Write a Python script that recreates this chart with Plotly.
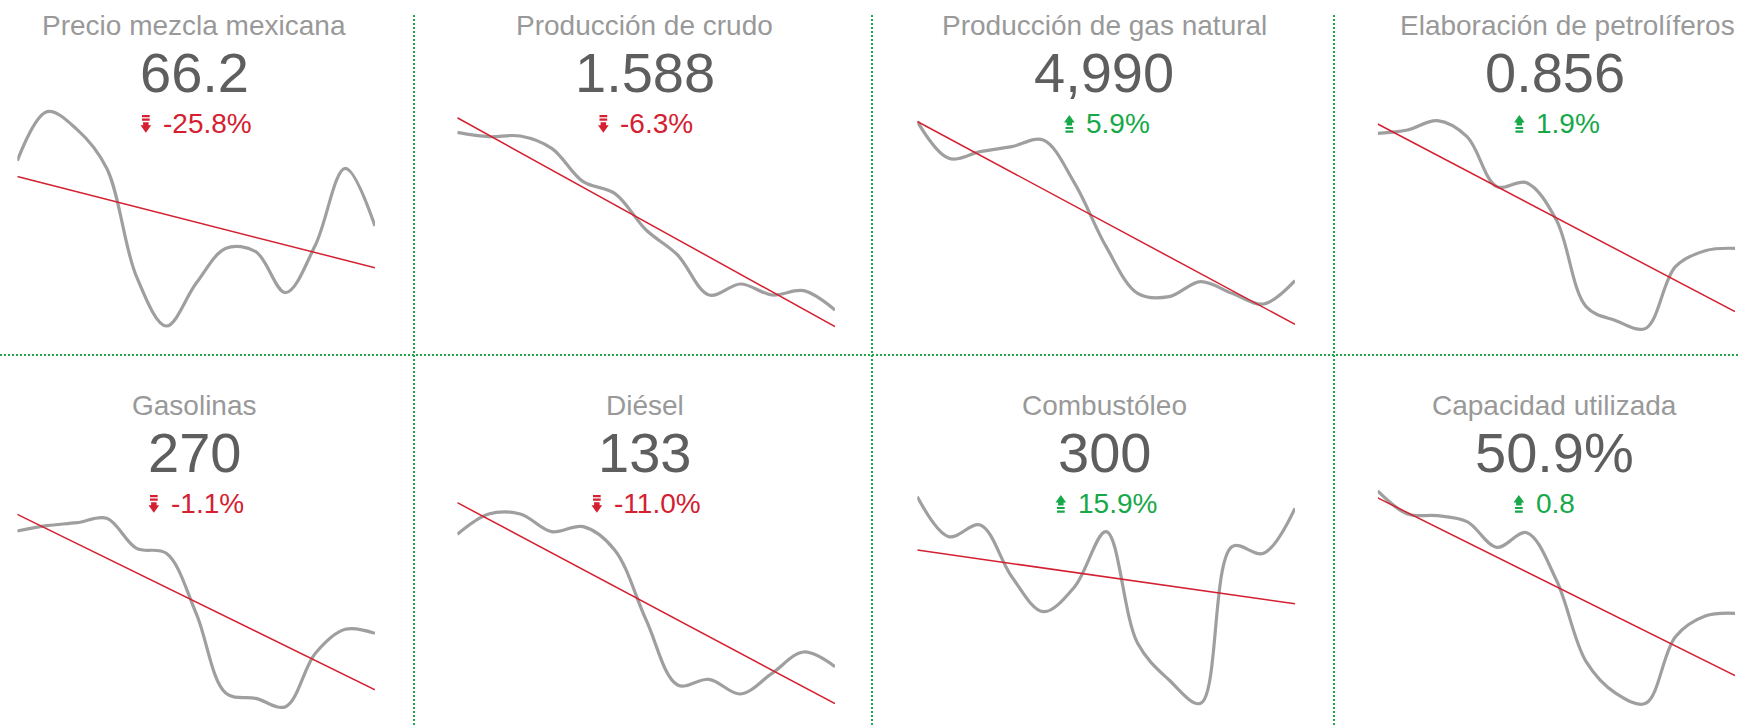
import numpy as np
import plotly.graph_objects as go

W, H = 1739, 725
FONT = 'Arial, Liberation Sans, sans-serif'
GRAY_LINE = '#9f9f9f'
TREND_RED = '#d42031'
DOWN_RED = '#d42031'
UP_GREEN = '#17a84a'
GRID_GREEN = '#22a84a'
TITLE_GRAY = '#999999'
NUMBER_GRAY = '#5e5e5e'

titles = ['Precio mezcla mexicana', 'Producción de crudo', 'Producción de gas natural',
          'Elaboración de petrolíferos', 'Gasolinas', 'Diésel', 'Combustóleo',
          'Capacidad utilizada']
values = [66.2, 1.588, 4990, 0.856, 270, 133, 300, 50.9]
references = [89.2, 1.695, 4712, 0.840, 273, 149.4, 258.8, 50.1]
value_formats = ['.1f', '.3f', ',.0f', '.3f', '.0f', '.0f', '.0f', '.1f']
value_suffixes = ['', '', '', '', '', '', '', '%']
delta_relative = [True, True, True, True, True, True, True, False]

# 13 monthly points per sparkline (index units, the original shows no axis)
meses = list(range(1, 14))
precio_mezcla = [61.8, 76.5, 71.2, 59.5, 27.0, 12.2, 25.0, 35.5, 34.5, 22.2, 36.5, 59.5, 42.2]
prod_crudo = [70.3, 69.0, 69.2, 65.5, 55.5, 52.0, 41.0, 33.5, 21.5, 24.8, 21.5, 22.8, 17.0]
prod_gas = [73.5, 62.5, 64.5, 66.0, 68.0, 55.0, 36.0, 22.0, 21.0, 25.5, 22.0, 18.8, 25.8]
petroliferos = [70.0, 71.0, 73.8, 69.0, 54.0, 55.2, 44.0, 18.0, 13.8, 11.5, 30.0, 34.8, 35.5]
gasolinas = [58.7, 60.3, 61.2, 62.5, 53.5, 52.0, 34.0, 10.0, 8.5, 6.0, 22.0, 29.2, 28.0]
diesel = [57.7, 63.8, 63.8, 58.5, 60.0, 53.0, 32.0, 12.5, 14.2, 9.8, 16.0, 22.4, 18.0]
combustoleo = [69.0, 57.0, 60.5, 45.0, 34.5, 42.0, 58.5, 25.0, 14.0, 7.0, 54.0, 52.0, 65.5]
capacidad = [70.7, 63.8, 63.3, 61.5, 53.8, 58.2, 44.0, 19.5, 10.0, 7.0, 27.0, 33.2, 34.0]

series = [precio_mezcla, prod_crudo, prod_gas, petroliferos,
          gasolinas, diesel, combustoleo, capacidad]

# layout, in pixels of the page
COL_X = [(17.3, 375), (457.3, 835), (917.3, 1295), (1377.7, 1735)]
TEXT_X = [194, 644.5, 1104, 1554.5]
ROW_SPARK_Y = [(95, 345), (475, 722)]  # top, bottom
ROW_RANGE = [(6.5, 81.5), (1.4, 75.5)]
ROW_OFFSET = [0, 380]
TITLE_Y, NUMBER_Y, DELTA_Y = 25.5, 72.5, 123
ICON_TOP = 115
DELTA_TEXT_LEFT = [163, 620.5, 1086.5, 1536.5, 171, 614, 1078, 1536]


def fx(p):
    return p / W


def fy(p):
    return 1 - p / H


def poly(points):
    return 'M' + ' L'.join(f'{fx(x):.5f},{fy(y):.5f}' for x, y in points) + ' Z'


def arrow_icon(left, top, up):
    """Dashed-shaft arrow icon (two bars + shaft + head), 10.7 x 17.7 px."""
    h = 17.7

    def y(v):
        return top + (h - v if up else v)

    bar1 = [(left + 1.5, y(0)), (left + 9.2, y(0)), (left + 9.2, y(2.2)), (left + 1.5, y(2.2))]
    bar2 = [(left + 1.5, y(3.6)), (left + 9.2, y(3.6)), (left + 9.2, y(5.8)), (left + 1.5, y(5.8))]
    head = [(left + 2.6, y(7.2)), (left + 8.1, y(7.2)), (left + 8.1, y(10.3)),
            (left + 10.7, y(10.3)), (left + 5.35, y(h)), (left, y(10.3)), (left + 2.6, y(10.3))]
    return ' '.join(poly(p) for p in (bar1, bar2, head))


fig = go.Figure()
for i in range(8):
    row, col = divmod(i, 4)
    ax = '' if i == 0 else str(i + 1)
    x0, x1 = COL_X[col]
    top, bottom = ROW_SPARK_Y[row]
    off = ROW_OFFSET[row]

    fig.add_trace(go.Scatter(
        x=meses, y=series[i], mode='lines',
        line={'shape': 'spline', 'color': GRAY_LINE, 'width': 3.2},
        xaxis='x' + ax, yaxis='y' + ax, hoverinfo='skip', showlegend=False,
    ))
    slope, intercept = np.polyfit(meses, series[i], 1)
    trend = [slope * m + intercept for m in meses]
    fig.add_trace(go.Scatter(
        x=meses, y=trend, mode='lines',
        line={'color': TREND_RED, 'width': 1.5},
        xaxis='x' + ax, yaxis='y' + ax, hoverinfo='skip', showlegend=False,
    ))
    fig.layout['xaxis' + ax] = {'domain': [fx(x0), fx(x1)], 'visible': False,
                                'anchor': 'y' + ax}
    fig.layout['yaxis' + ax] = {'domain': [fy(bottom), fy(top)], 'visible': False,
                                'range': list(ROW_RANGE[row]), 'anchor': 'x' + ax}

    # title (the long one sits flush with the panel's right edge)
    if i == 3:
        title_x, title_anchor = x1 + 2, 'right'
    else:
        title_x, title_anchor = TEXT_X[col], 'center'
    fig.add_annotation(x=fx(title_x), xanchor=title_anchor, y=fy(off + TITLE_Y),
                       text=titles[i],
                       font={'family': FONT, 'size': 28, 'color': TITLE_GRAY})

    # big number
    fig.add_annotation(x=fx(TEXT_X[col]), xanchor='center', y=fy(off + NUMBER_Y),
                       text=f'{values[i]:{value_formats[i]}}{value_suffixes[i]}',
                       font={'family': FONT, 'size': 56, 'color': NUMBER_GRAY})

    # delta vs reference, with arrow icon
    if delta_relative[i]:
        change = values[i] / references[i] - 1
        change_txt = f'{change:.1%}'
    else:
        change = values[i] - references[i]
        change_txt = f'{change:.1f}'
    up = change > 0
    colour = UP_GREEN if up else DOWN_RED
    fig.add_annotation(x=fx(DELTA_TEXT_LEFT[i] - 2.5), xanchor='left',
                       y=fy(off + DELTA_Y), text=change_txt,
                       font={'family': FONT, 'size': 28, 'color': colour})
    fig.add_shape(type='path', xref='paper', yref='paper',
                  path=arrow_icon(DELTA_TEXT_LEFT[i] - 22.5, off + ICON_TOP, up),
                  fillcolor=colour, line={'width': 0})

fig.update_annotations(xref='paper', yref='paper', yanchor='middle', showarrow=False)

# dotted separators
dotted = {'color': GRID_GREEN, 'width': 2, 'dash': '2px,2px'}
for xv in (414, 872, 1334):
    fig.add_shape(type='line', xref='paper', yref='paper',
                  x0=fx(xv), x1=fx(xv), y0=0, y1=fy(15), line=dotted)
fig.add_shape(type='line', xref='paper', yref='paper',
              x0=0, x1=1, y0=fy(355), y1=fy(355), line=dotted)

fig.update_layout(
    width=W, height=H,
    margin={'l': 0, 'r': 0, 't': 0, 'b': 0},
    paper_bgcolor='white', plot_bgcolor='white',
    font={'family': FONT},
    showlegend=False,
)

fig.write_html('out.html', config={'displayModeBar': False},
               post_script="document.body.style.margin = '0px';")
